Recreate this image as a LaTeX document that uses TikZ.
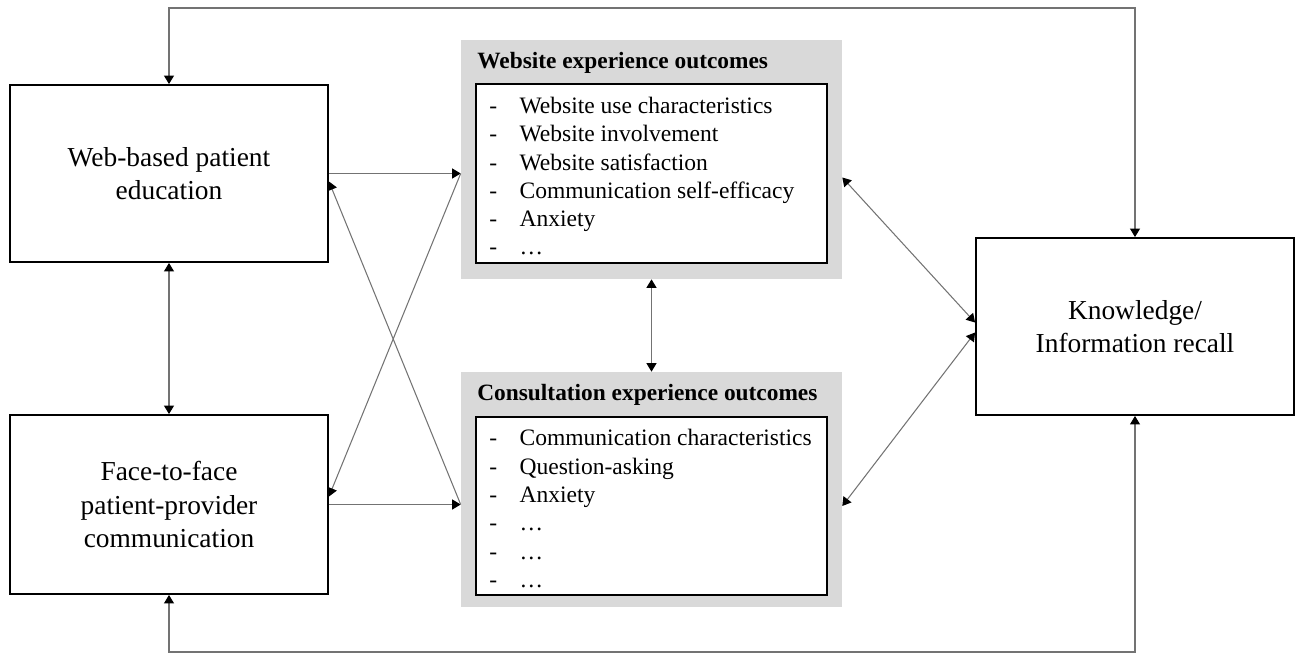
\documentclass[tikz,border=0pt]{standalone}
\usepackage{fontspec}
\setmainfont{Liberation Serif}
\usepackage{tikz}
\usetikzlibrary{arrows.meta,positioning,calc}
\definecolor{panelgray}{HTML}{D9D9D9}
\tikzstyle{box} = [rectangle, draw=black, line width=1.1pt, fill=white, align=center, inner sep=0pt, font=\fontsize{15.6}{18.8}\selectfont]
\tikzstyle{panel} = [rectangle, fill=panelgray, inner sep=0pt, minimum width=7.62cm]
\tikzstyle{listbox} = [rectangle, draw=black, line width=1.1pt, fill=white, inner sep=0pt, minimum width=7.02cm]
\tikzstyle{title} = [anchor=west, inner sep=0pt, font=\bfseries\fontsize{13.3}{16}\selectfont]
\tikzstyle{items} = [anchor=west, inner sep=0pt, align=left, font=\fontsize{13.4}{16.1}\selectfont]
\tikzstyle{arrow} = [draw=black!55, line width=0.6pt, ->, >={Triangle[length=1.7mm,width=2mm,color=black]}]
\tikzstyle{biarrow} = [draw=black!55, line width=0.6pt, <->, >={Triangle[length=1.7mm,width=2mm,color=black]}]
\newcommand{\itemlist}[1]{\begin{tabular}{@{}l@{\hspace{0.95em}}l@{}}#1\end{tabular}}

\begin{document}
\begin{tikzpicture}[x=0.02cm,y=-0.02cm]
	\useasboundingbox (0,0) rectangle (1295,653);

	% left boxes
	\node (web) [box, minimum width=6.36cm, minimum height=3.54cm] at (169,173.5) {Web-based patient\\education};
	\node (face) [box, minimum width=6.36cm, minimum height=3.58cm] at (169,504.5) {Face-to-face\\patient-provider\\communication};

	% outcome panels
	\node (webpanel) [panel, minimum height=4.78cm] at (651.5,159.5) {};
	\node (webtitle) [title] at (477,63) {Website experience outcomes};
	\node (weblist) [listbox, minimum height=3.58cm] at (651.5,173.5) {};
	\node (webitems) [items] at (489,178.5) {\itemlist{-&Website use characteristics\\-&Website involvement\\-&Website satisfaction\\-&Communication self-efficacy\\-&Anxiety\\-&\dots}};

	\node (conspanel) [panel, minimum height=4.70cm] at (651.5,489.5) {};
	\node (constitle) [title] at (477,395) {Consultation experience outcomes};
	\node (conslist) [listbox, minimum height=3.56cm] at (651.5,506) {};
	\node (consitems) [items] at (489,511) {\itemlist{-&Communication characteristics\\-&Question-asking\\-&Anxiety\\-&\dots\\-&\dots\\-&\dots}};

	% right box
	\node (know) [box, minimum width=6.36cm, minimum height=3.54cm] at (1135,326.5) {Knowledge/\\Information recall};

	\coordinate (top) at (650,8);
	\coordinate (bottom) at (650,652);

	\draw[arrow] (web.east) -- (web.east -| webpanel.west);
	\draw[arrow] (face.east) -- (face.east -| conspanel.west);
	\draw[arrow] (face.east -| conspanel.west) -- ($(web.east)+(0,8)$);
	\draw[arrow] (web.east -| webpanel.west) -- ($(face.east)+(0,-8)$);
	\draw[biarrow] (web.south) -- (face.north);
	\draw[biarrow] (webpanel.south) -- (conspanel.north);
	\draw[biarrow] ($(webpanel.east)+(0,18)$) -- ($(know.west)+(0,-4)$);
	\draw[biarrow] (conspanel.east |- conslist.east) -- ($(know.west)+(0,6)$);
	\draw[biarrow] (know.north) |- (top) -| (web.north);
	\draw[biarrow] (face.south) |- (bottom) -| (know.south);
\end{tikzpicture}
\end{document}
